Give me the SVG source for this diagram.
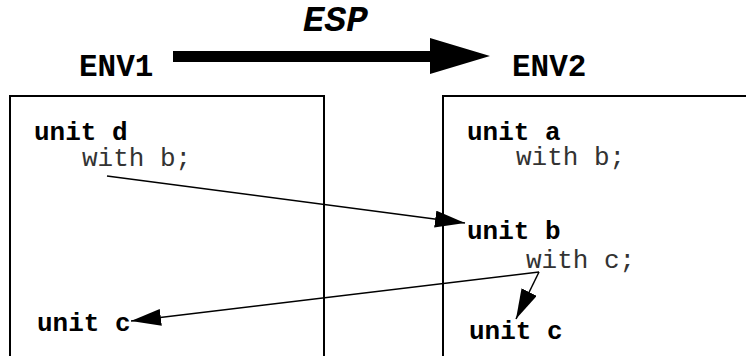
<svg xmlns="http://www.w3.org/2000/svg" width="746" height="356" viewBox="0 0 746 356">
<defs>
<style>
.b{font-family:"Liberation Mono","Courier New",monospace;font-weight:bold;font-size:26px;fill:#000}
.t{font-family:"Liberation Mono","Courier New",monospace;font-weight:bold;font-size:31px;fill:#000}
.e{font-family:"Liberation Mono","Courier New",monospace;font-weight:bold;font-style:italic;font-size:36px;fill:#000}
.r{font-family:"Liberation Mono","Courier New",monospace;font-size:26px;fill:#333}
.box{fill:none;stroke:#000;stroke-width:2}
.c{stroke:#000;stroke-width:1.5;fill:none}
</style>
<marker id="ah" viewBox="0 0 30 17" refX="30" refY="8.5" markerWidth="30" markerHeight="17" markerUnits="userSpaceOnUse" orient="auto">
<path d="M0,0 L30,8.5 L0,17 Z" fill="#000"/>
</marker>
</defs>
<g id="title">
<text x="303" y="31" class="e">ESP</text>
<text x="79" y="76" class="t">ENV1</text>
<text x="512" y="76" class="t">ENV2</text>
<path d="M173,51 L430,51 L430,38 L490,56 L430,74 L430,62 L173,62 Z" fill="#000"/>
</g>
<g id="env1">
<rect x="10" y="96" width="314" height="280" class="box"/>
<text x="34" y="140" class="b">unit d</text>
<text x="82" y="166" class="r">with b;</text>
<text x="37" y="331" class="b">unit c</text>
</g>
<g id="env2">
<rect x="443" y="96" width="320" height="280" class="box"/>
<text x="467" y="140" class="b">unit a</text>
<text x="516" y="165" class="r">with b;</text>
<text x="467" y="239" class="b">unit b</text>
<text x="526" y="268" class="r">with c;</text>
<text x="469" y="339" class="b">unit c</text>
</g>
<g id="connectors">
<line x1="107" y1="176" x2="465" y2="223" class="c" marker-end="url(#ah)"/>
<line x1="539" y1="272" x2="131" y2="321" class="c" marker-end="url(#ah)"/>
<line x1="539" y1="272" x2="516" y2="319" class="c" marker-end="url(#ah)"/>
</g>
</svg>
